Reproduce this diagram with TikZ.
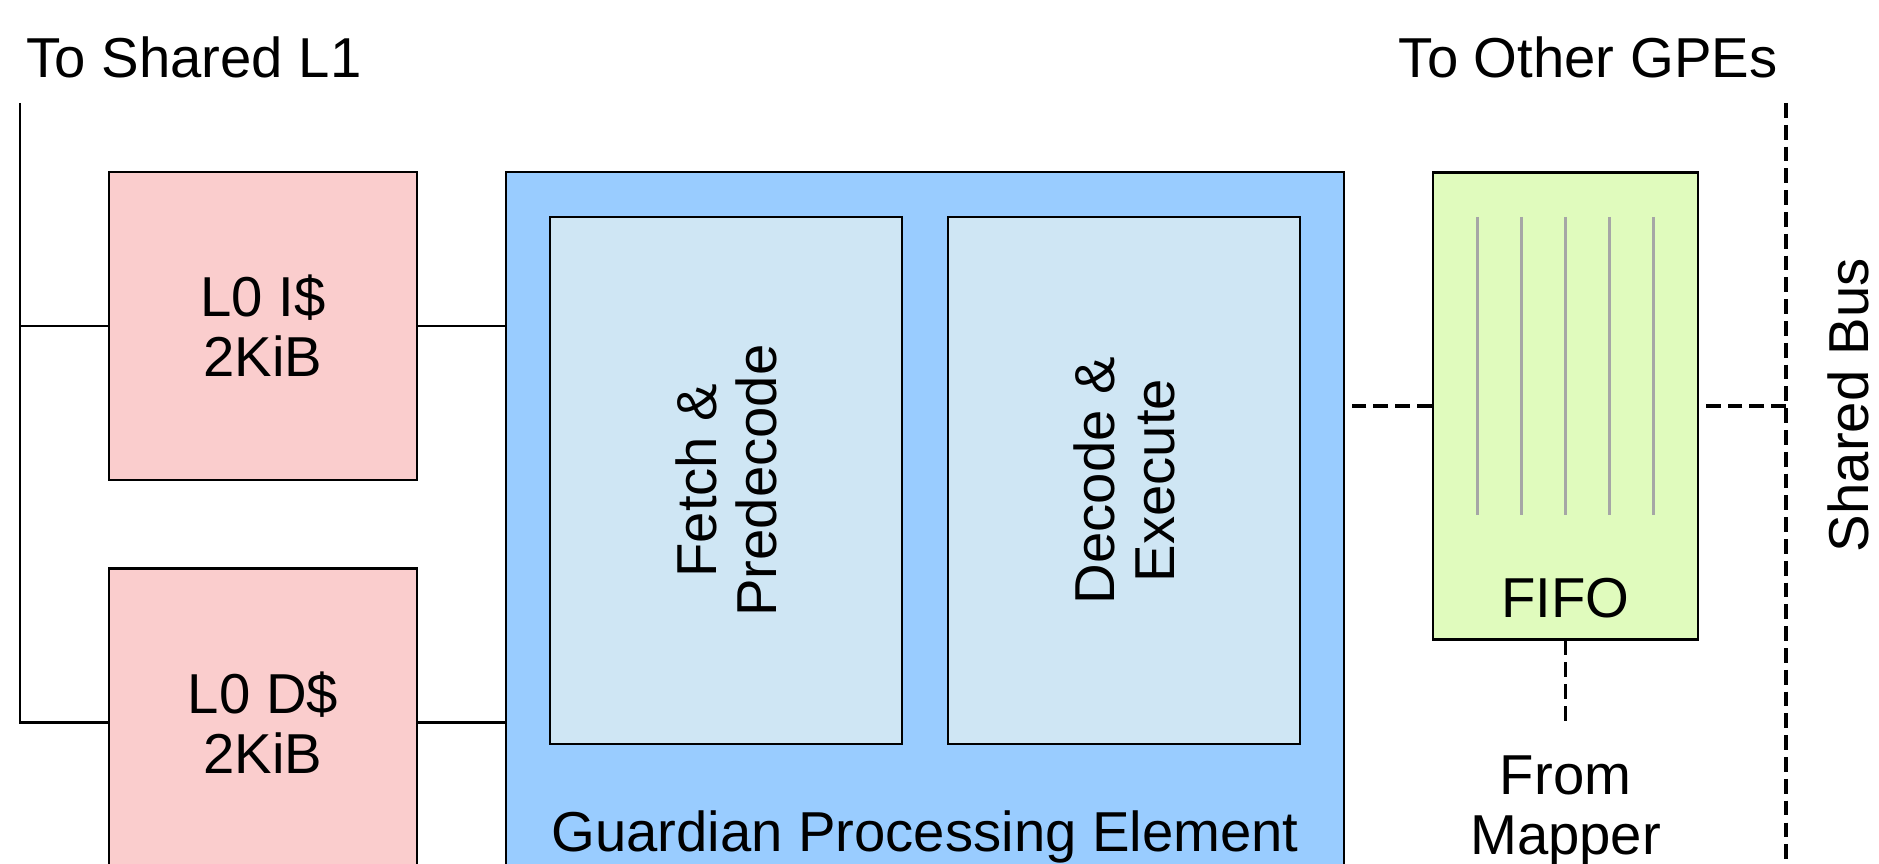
\documentclass[tikz,border=0pt]{standalone}
\usepackage{fontspec}
\setmainfont{Liberation Sans}
\usetikzlibrary{positioning}
\definecolor{cacheRed}{RGB}{250,205,205}
\definecolor{gpeBlue}{RGB}{153,204,255}
\definecolor{stageBlue}{RGB}{207,230,244}
\definecolor{fifoGreen}{RGB}{224,251,189}
\tikzset{
  blk/.style={draw=black, line width=0.7pt, inner sep=0pt, align=center},
  cacheblk/.style={blk, fill=cacheRed, minimum width=3.08cm, minimum height=3.075cm},
  stageblk/.style={blk, fill=stageBlue, minimum width=3.52cm, minimum height=5.27cm},
  wire/.style={line width=0.7pt},
  buswire/.style={line width=0.9pt, dash pattern=on 4.2pt off 2pt},
  slotln/.style={line width=0.8pt, gray!70},
}

\begin{document}
\begin{tikzpicture}[x=0.01cm, y=-0.01cm, font=\fontsize{16}{17}\selectfont]
    \clip (0,0) rectangle (1879,864);
    % caches
    \node[cacheblk] (icache) at (263,326) {L0 I\$\\2KiB};
    \node[cacheblk] (dcache) at (263,722.5) {L0 D\$\\2KiB};
    % processing element with its two stages
    \node[blk, fill=gpeBlue, minimum width=8.38cm, minimum height=7.035cm] (gpe) at (925,524) {};
    \node[stageblk] (fetch) at (726,480.5) {};
    \node[stageblk] (decode) at (1124,480.5) {};
    \node[rotate=90, align=center] at (fetch) {Fetch \&\\Predecode};
    \node[rotate=90, align=center] at (decode) {Decode \&\\Execute};
    \node[anchor=base] at (925,851) {Guardian Processing Element};
    % fifo with its slots
    \node[blk, fill=fifoGreen, minimum width=2.65cm, minimum height=4.665cm] (fifo) at (1565.5,406) {};
    \foreach \i in {-2,...,2}
      \draw[slotln] (1565.5+44*\i,217) -- (1565.5+44*\i,515);
    \node[anchor=base] at ([yshift=0.23cm]fifo.south) {FIFO};
    % L1 side
    \coordinate (l1top) at (20,103);
    \node[anchor=base west, inner sep=0pt] at (26,78) {To Shared L1};
    \draw[wire] (l1top) |- (dcache.west);
    \draw[wire] (l1top |- icache.west) -- (icache.west);
    \draw[wire] (icache.east) -- (icache.east -| gpe.west);
    \draw[wire] (dcache.east) -- (dcache.east -| gpe.west);
    % bus side
    \coordinate (bustop) at (1786,103);
    \coordinate (busbot) at (1786,880);
    \coordinate (mapin) at (1565.5,726);
    \node[anchor=base east, inner sep=0pt] at (1778,78) {To Other GPEs};
    \node[rotate=90] at (1848,405) {Shared Bus};
    \draw[buswire] (bustop) -- (busbot);
    \draw[buswire] (fifo.west) -- (gpe.east |- fifo.west);
    \draw[buswire] (fifo.east -| bustop) -- (fifo.east);
    \draw[buswire] (fifo.south) -- (mapin);
    \node[below=0.29cm of mapin, inner sep=0pt, align=center] {From\\Mapper};
\end{tikzpicture}
\end{document}
